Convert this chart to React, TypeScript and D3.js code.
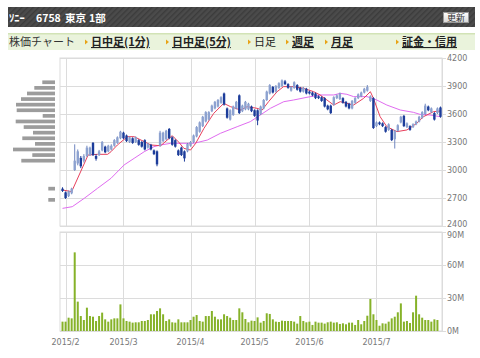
import React from 'react';
import * as d3 from 'd3';

// ---------- data ----------
const opens = [2800,2760,2720,2750,3000,3070,3130,3100,3150,3160,3290,3150,3160,3210,3250,3200,3220,3260,3290,3340,3400,3370,3300,3340,3300,3320,3300,3320,3240,3270,3210,3200,3260,3310,3330,3440,3350,3320,3210,3240,3200,3200,3260,3300,3360,3410,3470,3520,3540,3630,3660,3680,3720,3820,3660,3540,3590,3660,3800,3630,3650,3650,3680,3640,3640,3600,3660,3750,3820,3890,3840,3880,3900,3950,3920,3850,3880,3910,3880,3840,3870,3840,3830,3820,3790,3780,3770,3690,3690,3700,3770,3760,3770,3730,3710,3660,3720,3770,3790,3830,3850,3740,3770,3470,3510,3500,3460,3430,3430,3330,3420,3510,3580,3460,3470,3460,3490,3520,3560,3600,3680,3620,3610,3610,3670];
const closes = [2775,2700,2770,2800,3100,3200,3040,3150,3240,3240,3160,3120,3200,3300,3190,3260,3260,3320,3350,3410,3340,3310,3350,3290,3350,3270,3250,3220,3280,3220,3170,3060,3400,3400,3420,3340,3270,3250,3160,3160,3125,3280,3300,3370,3460,3510,3570,3620,3620,3690,3730,3750,3780,3700,3560,3640,3680,3730,3610,3690,3730,3710,3630,3580,3530,3680,3750,3840,3910,3830,3900,3930,3960,3920,3880,3890,3940,3860,3840,3880,3820,3820,3800,3770,3770,3740,3680,3650,3610,3780,3800,3820,3720,3680,3660,3740,3770,3810,3830,3870,3890,3790,3450,3510,3490,3470,3410,3490,3320,3420,3480,3570,3470,3500,3430,3490,3520,3570,3620,3690,3640,3660,3540,3660,3570];
const highs = [2815,2770,2780,2810,3275,3220,3150,3170,3260,3250,3300,3170,3215,3310,3260,3270,3275,3330,3360,3420,3410,3380,3360,3350,3360,3330,3310,3330,3290,3280,3220,3210,3420,3410,3430,3450,3360,3330,3220,3250,3210,3290,3310,3380,3470,3520,3580,3630,3630,3700,3740,3760,3790,3830,3670,3650,3690,3740,3810,3700,3740,3720,3690,3650,3650,3690,3760,3850,3920,3900,3910,3940,3970,3965,3930,3900,3950,3920,3890,3890,3880,3850,3840,3830,3800,3790,3780,3700,3700,3790,3810,3830,3780,3740,3720,3750,3780,3820,3840,3880,3910,3800,3780,3520,3520,3510,3470,3500,3440,3430,3490,3580,3590,3510,3480,3500,3530,3580,3630,3710,3690,3670,3620,3670,3680];
const lows = [2765,2690,2710,2740,2990,3050,3020,3080,3140,3150,3150,3100,3150,3200,3180,3190,3210,3250,3280,3330,3330,3300,3290,3280,3290,3260,3240,3210,3230,3210,3160,3040,3250,3300,3320,3330,3260,3240,3150,3150,3090,3190,3250,3290,3350,3400,3460,3510,3530,3620,3650,3670,3710,3690,3550,3530,3580,3650,3600,3620,3640,3640,3620,3570,3480,3590,3650,3740,3810,3820,3830,3870,3890,3910,3870,3840,3870,3850,3830,3830,3810,3810,3790,3760,3760,3730,3670,3640,3600,3690,3760,3750,3710,3670,3650,3650,3710,3760,3780,3820,3840,3730,3440,3460,3480,3460,3400,3420,3310,3230,3410,3500,3460,3450,3420,3450,3480,3510,3550,3590,3630,3610,3530,3600,3560];
// volume in millions of shares
const volumes = [8.5,8.5,12.1,11.5,71.5,26.7,13.6,10,21.2,13.6,13,9.1,13.6,16.7,10.6,8.5,10.6,11.5,11.5,24.2,11.5,9.1,8.5,7.6,7.9,7.9,9.1,9.1,10,15.2,15.2,18.2,20.6,15.2,9.1,10.6,7.9,7.6,10.6,7.9,7.9,7.9,10,13,14.5,9.1,8.5,13.6,13.6,18.2,13,10.6,10.6,15.2,13.6,12.1,10,10,20.6,17,10.9,7.9,9.4,9.1,12.4,7.6,9.1,16.1,15.5,10.6,8.5,8.2,9.4,9.1,9.1,9.1,8.5,6.7,13.6,9.1,7.9,8.5,5.5,8.5,7.6,7.6,6.7,7.9,8.5,7.6,7.9,6.4,7,6.1,7.6,7.6,5.5,10,6.1,9.1,13.9,29.1,15.2,10,4.8,7,6.7,8.5,11.5,13,17,25.1,8.5,9.1,7.3,17,32.1,15.2,12.1,10,10,8.5,10.6,10];

// short (red) and long (magenta) moving averages, read at knots: [day index, price]
const maShortIdx = [0,3,8.4,11.5,14.8,15.9,18,21.3,23.5,26.8,29,32.2,36,38.2,39.8,42,43.7,46.4,49.6,52.9,55.1,58.4,60.6,63.8,65.5,67.6,70.4,72.5,75.8,79.1,82.4,84.5,89,91.1,95.5,98.8,101,102,104.2,106.4,109.7,113,116.2,118.4,121.7,124];
const maShortVal = [2786,2768,3161,3168,3168,3196,3268,3357,3357,3304,3268,3260,3368,3296,3232,3214,3286,3446,3607,3714,3679,3643,3679,3661,3643,3732,3839,3893,3893,3875,3839,3804,3696,3732,3696,3768,3839,3768,3571,3464,3411,3429,3500,3571,3625,3632];
const maLongIdx = [0,3.2,7.1,11.5,15.9,20.2,23.5,26.8,30,32.2,35.5,43.1,47.5,51.8,57.3,61.6,64.9,68.2,72.6,75.8,80.2,84.5,89,91.1,93.3,95.5,99.9,103.1,106.4,110.8,115.1,117.3,120.6,124];
const maLongVal = [2589,2607,2696,2804,2911,3054,3125,3196,3250,3268,3286,3286,3321,3393,3464,3518,3589,3661,3732,3750,3779,3804,3804,3821,3811,3786,3786,3750,3696,3643,3618,3596,3589,3571];

// volume-by-price profile (price band centre, relative volume)
const profilePrices = [3940,3880,3820,3760,3700,3640,3580,3520,3460,3400,3340,3280,3220,3160,3100,2800,2680];
const profileVols = [12.7,20.7,28,34,39,38.3,12.3,39.3,31.3,22,32.7,20,42,22.7,33.7,6.7,6.7];

const monthLabels = ['2015/2','2015/3','2015/4','2015/5','2015/6','2015/7'];
const monthStartIdx = [1,20,42,63,81,103];
const priceTicks = [2400,2700,3000,3300,3600,3900,4200];
const volTicks = [0,30,60,90];

const navLinks = ['日中足(1分)','日中足(5分)','日足','週足','月足','証金・信用'];
const navLinked = [true,true,false,true,true,true];
const navX = [91,172,254,292,331,402];

// ---------- layout ----------
const W = 480, H = 358;
const PL = 61, PR = 442;
const PT = 58, PB = 226;
const VT = 232, VB = 331;

const UP = '#8da2d0';
const UP_EDGE = '#6f86bf';
const DOWN = '#1c3c9a';
const FONT = 'DejaVu Sans, Verdana, sans-serif';
const JP = '"Noto Sans CJK JP", sans-serif';

export default function App() {
  const n = closes.length;
  const x = d3.scaleBand<number>().domain(d3.range(n)).range([PL, PR]).paddingInner(0);
  const bw = x.bandwidth();
  const cx = (i: number) => (x(i) as number) + bw / 2;
  const xl = d3.scaleLinear().domain([0, n]).range([PL, PR]);
  const cxf = (v: number) => xl(v + 0.5);
  const y = d3.scaleLinear().domain([2400, 4200]).range([PB, PT]);
  const yv = d3.scaleLinear().domain([0, 90]).range([VB, VT]);
  const pw = d3.scaleLinear().domain([0, 42]).range([0, 42]);
  const binH = Math.abs(y(0) - y(60));

  const lineShort = d3.line<number>().x((_, k) => cxf(maShortIdx[k])).y(v => y(v));
  const lineLong = d3.line<number>().x((_, k) => cxf(maLongIdx[k])).y(v => y(v));

  const gridColor = '#dcdcdc';

  return (
    <svg width={W} height={H} style={{ position: 'absolute', left: 0, top: 0, background: '#fff' }}>
      <defs>
        <pattern id="stripe" width="4" height="4" patternUnits="userSpaceOnUse" patternTransform="rotate(45)">
          <rect width="4" height="4" fill="#4b4b4b" />
          <rect width="1.4" height="4" fill="#3c3c3c" />
        </pattern>
        <linearGradient id="btn" x1="0" y1="0" x2="0" y2="1">
          <stop offset="0" stopColor="#ffffff" />
          <stop offset="1" stopColor="#d8d8d8" />
        </linearGradient>
      </defs>

      {/* header */}
      <rect x={8} y={7} width={467} height={20} fill="url(#stripe)" />
      <g fill="#fff" fontFamily={JP} fontSize={10.5} fontWeight="bold">
        <text x={9} y={21.5}>ｿﾆｰ</text>
        <text x={36} y={21.5}>6758</text>
        <text x={65} y={21.5}>東京</text>
        <text x={89} y={21.5}>1部</text>
      </g>
      <rect x={443.5} y={12.5} width={25} height={10} fill="url(#btn)" stroke="#999" strokeWidth={1} />
      <text x={456} y={21} textAnchor="middle" fontFamily={JP} fontSize={9} fill="#333">更新</text>

      {/* nav bar */}
      <rect x={8} y={33} width={467} height={17} fill="#eaf3dc" />
      <rect x={8} y={33} width={467} height={1.5} fill="#d2e3b6" />
      <text x={9} y={46} fontFamily={JP} fontSize={11} fill="#333">株価チャート</text>
      {navLinks.map((t, k) => (
        <g key={t}>
          <path d={`M${navX[k] - 6},${39.5} l3,2.5 l-3,2.5 z`} fill="#e8a317" />
          <text x={navX[k]} y={46} fontFamily={JP} fontSize={11} fontWeight={navLinked[k] ? 'bold' : 'normal'}
            fill="#222" textDecoration={navLinked[k] ? 'underline' : 'none'}>{t}</text>
        </g>
      ))}

      {/* price panel */}
      <rect x={PL - 1} y={PT} width={PR - PL + 1} height={PB - PT} fill="#fff" stroke={gridColor} strokeWidth={1} />
      {priceTicks.map(p => (
        <g key={p}>
          <line x1={PL - 1} x2={PR + 4} y1={Math.round(y(p)) + 0.5} y2={Math.round(y(p)) + 0.5} stroke={gridColor} />
          <text x={447} y={y(p)} dy={p === 2400 ? '0.15em' : '0.35em'} fontFamily={FONT} fontSize={8} fill="#777">{p}</text>
        </g>
      ))}
      {monthStartIdx.map(i => (
        <line key={'gp' + i} x1={Math.round(cx(i)) + 0.5} x2={Math.round(cx(i)) + 0.5} y1={PT} y2={PB} stroke={gridColor} />
      ))}
      <line x1={PR + 0.5} x2={PR + 0.5} y1={PT} y2={PB} stroke={gridColor} />

      {/* volume panel */}
      <rect x={PL - 1} y={VT} width={PR - PL + 1} height={VB - VT} fill="#fff" stroke={gridColor} strokeWidth={1} />
      {volTicks.map(v => (
        <g key={v}>
          <line x1={PL - 1} x2={PR + 4} y1={Math.round(yv(v)) + 0.5} y2={Math.round(yv(v)) + 0.5} stroke={gridColor} />
          <text x={447} y={yv(v)} dy={v === 90 ? '0.75em' : '0.35em'} fontFamily={FONT} fontSize={8} fill="#777">{v + 'M'}</text>
        </g>
      ))}
      {monthStartIdx.map((i, k) => (
        <g key={'gv' + i}>
          <line x1={Math.round(cx(i)) + 0.5} x2={Math.round(cx(i)) + 0.5} y1={VT} y2={VB} stroke={gridColor} />
          <text x={cx(i)} y={345} textAnchor="middle" fontFamily={FONT} fontSize={8} fill="#777">{monthLabels[k]}</text>
        </g>
      ))}
      <line x1={PR + 0.5} x2={PR + 0.5} y1={VT} y2={VB} stroke={gridColor} />

      {/* volume-by-price */}
      {profilePrices.map((p, k) => (
        <rect key={'pf' + p} x={55 - pw(profileVols[k])} y={y(p) - binH * 0.33} width={pw(profileVols[k])} height={binH * 0.66} fill="#9c9c9c" />
      ))}

      {/* moving averages */}
      <path d={lineLong(maLongVal) || ''} fill="none" stroke="#e06cf0" strokeWidth={1} />
      <path d={lineShort(maShortVal) || ''} fill="none" stroke="#e8405c" strokeWidth={1} />

      {/* candles */}
      {closes.map((c, i) => {
        const o = opens[i];
        const up = c >= o;
        const col = up ? UP : DOWN;
        const top = y(Math.max(o, c));
        const bot = y(Math.min(o, c));
        const xc = cx(i);
        return (
          <g key={'c' + i}>
            <line x1={xc} x2={xc} y1={y(highs[i])} y2={y(lows[i])} stroke={up ? UP_EDGE : DOWN} strokeWidth={1} />
            <rect x={xc - 1.2} y={top} width={2.4} height={Math.max(1, bot - top)} fill={col} />
          </g>
        );
      })}

      {/* volume bars */}
      {volumes.map((v, i) => (
        <rect key={'v' + i} x={cx(i) - 1} y={yv(v)} width={2} height={VB - yv(v)} fill="#86b229" />
      ))}
    </svg>
  );
}
